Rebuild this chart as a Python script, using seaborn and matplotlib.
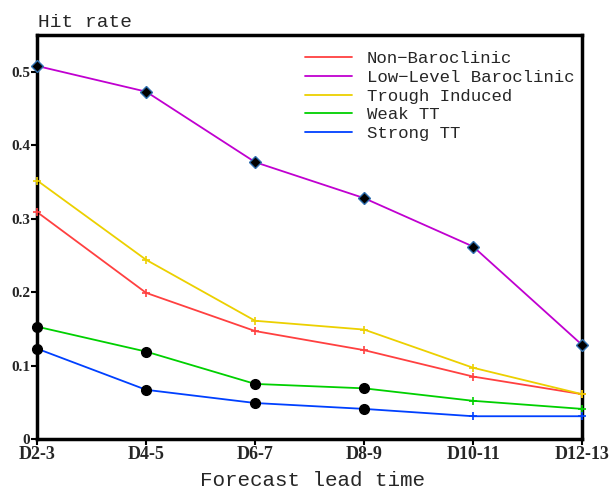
import matplotlib
matplotlib.use("Agg")
import matplotlib.pyplot as plt
import seaborn as sns
import pandas as pd
import numpy as np

categories = ["D2-3", "D4-5", "D6-7", "D8-9", "D10-11", "D12-13"]
non_baroclinic = [0.309, 0.199, 0.147, 0.121, 0.085, 0.061]
low_level_baroclinic = [0.508, 0.473, 0.377, 0.328, 0.262, 0.128]
trough_induced = [0.352, 0.244, 0.161, 0.149, 0.097, 0.061]
weak_tt = [0.153, 0.119, 0.075, 0.069, 0.052, 0.041]
strong_tt = [0.123, 0.067, 0.049, 0.041, 0.031, 0.031]
yticks = [0, 0.1, 0.2, 0.3, 0.4, 0.5]
ytick_labels = ["0", "0.1", "0.2", "0.3", "0.4", "0.5"]

series = [
    ("Non\u2212Baroclinic", non_baroclinic, "#ff4040"),
    ("Low\u2212Level Baroclinic", low_level_baroclinic, "#c000d0"),
    ("Trough Induced", trough_induced, "#ecd000"),
    ("Weak TT", weak_tt, "#00d000"),
    ("Strong TT", strong_tt, "#0040ff"),
]

sns.set_style("white")
plt.rcParams["font.family"] = ["Liberation Mono", "DejaVu Sans Mono"]

fig = plt.figure(figsize=(6.09, 4.88), dpi=100)
ax = fig.add_axes([0.061, 0.1004, 0.895, 0.8276])

rows = []
for name, vals, col in series:
    for i, v in enumerate(vals):
        rows.append({"series": name, "x": i, "y": v})
df = pd.DataFrame(rows)

palette = {name: col for name, _, col in series}
sns.lineplot(data=df, x="x", y="y", hue="series", palette=palette,
             hue_order=[s[0] for s in series], ax=ax, lw=1.3, legend=True,
             estimator=None, sort=False)

for name, vals, col in series:
    sub = df[df.series == name]
    if name.startswith("Low"):
        ax.plot(sub.x, sub.y, ls="none", marker="D", ms=6.5, mfc="black",
                mec="#3070b0", mew=1.0, clip_on=False, zorder=5)
    elif "TT" in name:
        circ = sub[sub.x <= 3]
        plus = sub[sub.x > 3]
        ax.plot(circ.x, circ.y, ls="none", marker="o", ms=7, mfc="black",
                mec="black", clip_on=False, zorder=5)
        ax.plot(plus.x, plus.y, ls="none", marker="+", ms=6, mew=1.2,
                color=col, clip_on=False, zorder=5)
    else:
        ax.plot(sub.x, sub.y, ls="none", marker="+", ms=6, mew=1.2,
                color=col, clip_on=False, zorder=5)

ax.set_xlim(0, 5)
ax.set_ylim(0, 0.55)
ax.set_xticks(range(len(categories)))
ax.set_xticklabels(categories)
ax.set_yticks(yticks)
ax.set_yticklabels(ytick_labels)
for lab in ax.get_xticklabels():
    lab.set_fontfamily("Liberation Serif")
    lab.set_fontweight("bold")
    lab.set_fontsize(13)
for lab in ax.get_yticklabels():
    lab.set_fontfamily("Liberation Serif")
    lab.set_fontweight("bold")
    lab.set_fontsize(11)
ax.tick_params(axis="both", direction="out", length=4, width=1.5,
               color="black", left=True, bottom=True)
ax.tick_params(axis="y", pad=1)
ax.tick_params(axis="x", pad=1)
for sp in ax.spines.values():
    sp.set_visible(True)
    sp.set_color("black")
    sp.set_linewidth(2.5)

ax.set_xlabel("")
ax.set_ylabel("")
fig.text(313 / 609, 1 - 480 / 488, "Forecast lead time", fontsize=15,
         ha="center", va="center")
fig.text(0.062, 0.945, "Hit rate", fontsize=14, ha="left", va="baseline")

leg = ax.legend(loc="upper left", bbox_to_anchor=(0.492, 0.960), frameon=False,
                fontsize=12.5, handlelength=2.7, handletextpad=0.86,
                labelspacing=0.2, borderaxespad=0, borderpad=0)
for h in leg.get_lines():
    h.set_linewidth(1.3)

fig.savefig("out.png", dpi=100)
